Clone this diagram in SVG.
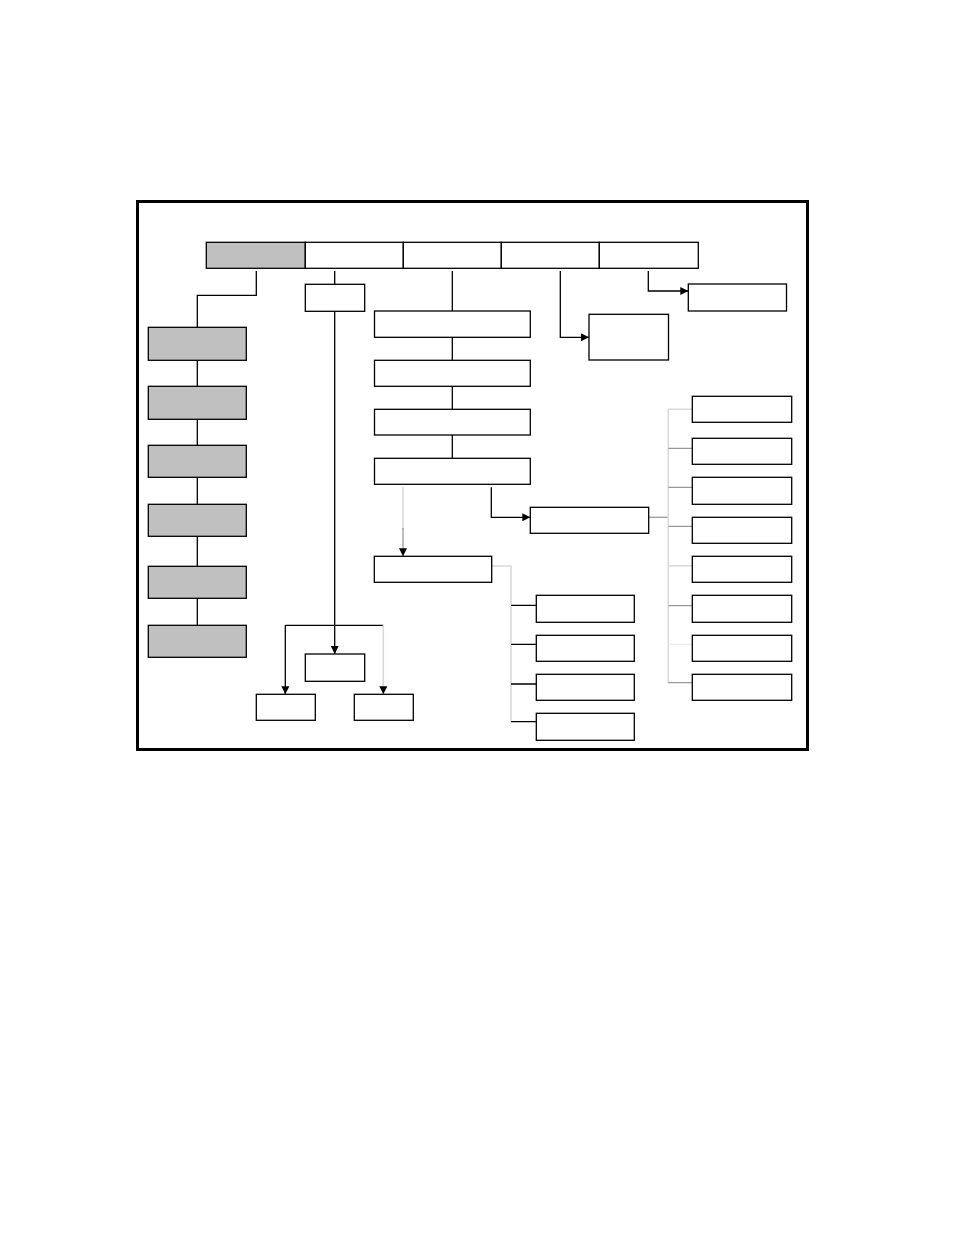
<svg xmlns="http://www.w3.org/2000/svg" width="954" height="1235" viewBox="0 0 954 1235">
<style>
.b{fill:#fff;stroke:#000;stroke-width:1.3}
.g{fill:#c0c0c0;stroke:#000;stroke-width:1.3}
.c{fill:none;stroke:#000;stroke-width:1.3}
.lg{fill:none;stroke:#d9d9d9;stroke-width:1.6}
.mg{fill:none;stroke:#999;stroke-width:1.3}
.a{marker-end:url(#ah)}
</style>
<defs>
<marker id="ah" viewBox="0 0 10 10" refX="10" refY="5" markerWidth="9" markerHeight="8" markerUnits="userSpaceOnUse" orient="auto"><path d="M0,0L10,5L0,10z" fill="#000"/></marker>
</defs>
<rect width="954" height="1235" fill="#fff"/>
<rect id="frame" x="137.5" y="201.5" width="670" height="548" fill="none" stroke="#000" stroke-width="3"/>
<g id="connectors">
<path class="c" d="M256.3,271V295.3H197.3V327.3"/>
<path class="c" d="M197.3,360.3V386.3M197.3,419.3V445.3M197.3,477.3V504.3M197.3,536.3V566.3M197.3,598.3V625.3"/>
<path class="c" d="M334.7,271V284.3"/>
<path class="c a" d="M334.7,311.3V654"/>
<path class="c" d="M383.3,625.3H285.3"/>
<path class="c a" d="M285.3,625.3V694.3"/>
<path class="lg a" d="M383.3,625.3V694.3"/>
<path class="c" d="M452.3,271V311M452.3,337.3V360.3M452.3,386.3V409.3M452.3,435V458.3"/>
<path class="lg" d="M403,487.3V530"/>
<path class="mg a" d="M403,528V556.3"/>
<path class="c a" d="M491.3,487.3V517.3H530.3"/>
<path class="mg" d="M648.7,517.3H668.3"/>
<path class="lg" d="M668.3,409V683"/>
<path class="lg" d="M668.3,409.3H692.3M668.3,565.7H692.3"/>
<path class="mg" d="M668.3,448.3H692.3M668.3,487.3H692.3M668.3,526.3H692.3M668.3,605.7H692.3M668.3,682.7H692.3"/>
<path fill="none" stroke="#eee" stroke-width="1.3" d="M668.3,644.3H692.3"/>
<path class="lg" d="M491.7,566H511V721.7"/>
<path class="c" d="M511,605.3H536.3M511,644.3H536.3M511,684H536.3M511,721.7H536.3"/>
<path class="c a" d="M560.3,271V337.3H589"/>
<path class="c a" d="M648.3,271V291H688.3"/>
</g>
<g id="top">
<rect id="t1" class="g" x="206.3" y="242.3" width="99" height="26"/>
<rect id="t2" class="b" x="305.3" y="242.3" width="98" height="26"/>
<rect id="t3" class="b" x="403.3" y="242.3" width="98" height="26"/>
<rect id="t4" class="b" x="501.3" y="242.3" width="98" height="26"/>
<rect id="t5" class="b" x="599.3" y="242.3" width="99" height="26"/>
</g>
<g id="left">
<rect id="l1" class="g" x="148.3" y="327.3" width="98" height="33"/>
<rect id="l2" class="g" x="148.3" y="386.3" width="98" height="33"/>
<rect id="l3" class="g" x="148.3" y="445.3" width="98" height="32"/>
<rect id="l4" class="g" x="148.3" y="504.3" width="98" height="32"/>
<rect id="l5" class="g" x="148.3" y="566.3" width="98" height="32"/>
<rect id="l6" class="g" x="148.3" y="625.3" width="98" height="32"/>
</g>
<g id="col2">
<rect id="c2a" class="b" x="305.3" y="284.3" width="59.4" height="27"/>
<rect id="c2b" class="b" x="305.3" y="654" width="59.4" height="27.3"/>
<rect id="c2c" class="b" x="256.3" y="694.3" width="59" height="26"/>
<rect id="c2d" class="b" x="354.3" y="694.3" width="59" height="26"/>
</g>
<g id="col3">
<rect id="c3a" class="b" x="374.5" y="311" width="155.8" height="26.3"/>
<rect id="c3b" class="b" x="374.5" y="360.3" width="155.8" height="26"/>
<rect id="c3c" class="b" x="374.5" y="409.3" width="155.8" height="25.7"/>
<rect id="c3d" class="b" x="374.5" y="458.3" width="155.8" height="26"/>
<rect id="c3e" class="b" x="374.3" y="556.3" width="117.4" height="26"/>
<rect id="c3f" class="b" x="530.3" y="507.3" width="118.4" height="26"/>
</g>
<g id="sub1">
<rect class="b" x="536.3" y="595.3" width="98" height="27"/>
<rect class="b" x="536.3" y="635.3" width="98" height="26"/>
<rect class="b" x="536.3" y="674.3" width="98" height="26"/>
<rect class="b" x="536.3" y="713.3" width="98" height="27"/>
</g>
<g id="sub2">
<rect class="b" x="692.3" y="396.3" width="99.4" height="26"/>
<rect class="b" x="692.3" y="438.3" width="99.4" height="26"/>
<rect class="b" x="692.3" y="477.3" width="99.4" height="27"/>
<rect class="b" x="692.3" y="517.3" width="99.4" height="26"/>
<rect class="b" x="692.3" y="556.3" width="99.4" height="26"/>
<rect class="b" x="692.3" y="595.3" width="99.4" height="27"/>
<rect class="b" x="692.3" y="635.3" width="99.4" height="26"/>
<rect class="b" x="692.3" y="674.3" width="99.4" height="26"/>
</g>
<g id="col4">
<rect id="c4" class="b" x="589" y="314.3" width="79.5" height="45.7"/>
<rect id="c5" class="b" x="688.3" y="284" width="98.2" height="27"/>
</g>
</svg>
